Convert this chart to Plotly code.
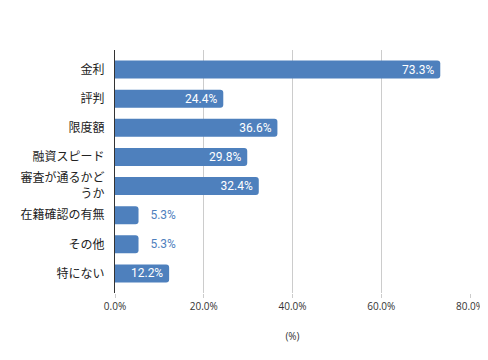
import plotly.graph_objects as go

categories = ["金利", "評判", "限度額", "融資スピード", "審査が通るかど<br>うか", "在籍確認の有無", "その他", "特にない"]
values = [73.3, 24.4, 36.6, 29.8, 32.4, 5.3, 5.3, 12.2]
tick_vals = [0, 20, 40, 60, 80]
tick_text = ["0.0%", "20.0%", "40.0%", "60.0%", "80.0%"]

BLUE = "#4e80bd"
positions = ["outside" if v < 8 else "inside" for v in values]
texts = [("   " + f"{v:.1f}%") if v < 8 else (f"{v:.1f}%" + " ") for v in values]

fig = go.Figure(go.Bar(
    y=categories, x=values, orientation="h",
    marker=dict(color=BLUE, line=dict(width=0)),
    width=0.62,
    text=texts, textposition=positions,
    insidetextanchor="end",
    constraintext="none",
    insidetextfont=dict(color="white", size=12, family="Roboto"),
    outsidetextfont=dict(color=BLUE, size=12, family="Roboto"),
    cliponaxis=False,
    hoverinfo="skip",
))

fig.update_layout(
    width=488, height=360,
    margin=dict(l=106.5, r=25.5, t=42, b=75),
    plot_bgcolor="white", paper_bgcolor="white",
    barcornerradius=3,
    showlegend=False,
)
fig.update_xaxes(
    range=[0, 80], tickvals=tick_vals, ticktext=tick_text,
    showgrid=True, gridcolor="#cccccc", gridwidth=1,
    zeroline=False, showline=False, automargin=False,
    ticks="outside", ticklen=4, tickcolor="#cccccc",
    tickfont=dict(size=10, color="#333333", family="Open Sans"),
    title=dict(text="(%)", font=dict(size=10, color="#333333", family="Open Sans"), standoff=20),
)
fig.update_yaxes(
    range=[7.67, -0.67], type="category",
    showgrid=False, zeroline=False, automargin=False,
    showline=True, linecolor="#333333", linewidth=1,
    ticks="", ticklabelstandoff=7,
    tickfont=dict(size=12, color="#222222", family="Noto Sans CJK SC"),
)

fig.write_html("out.html")
